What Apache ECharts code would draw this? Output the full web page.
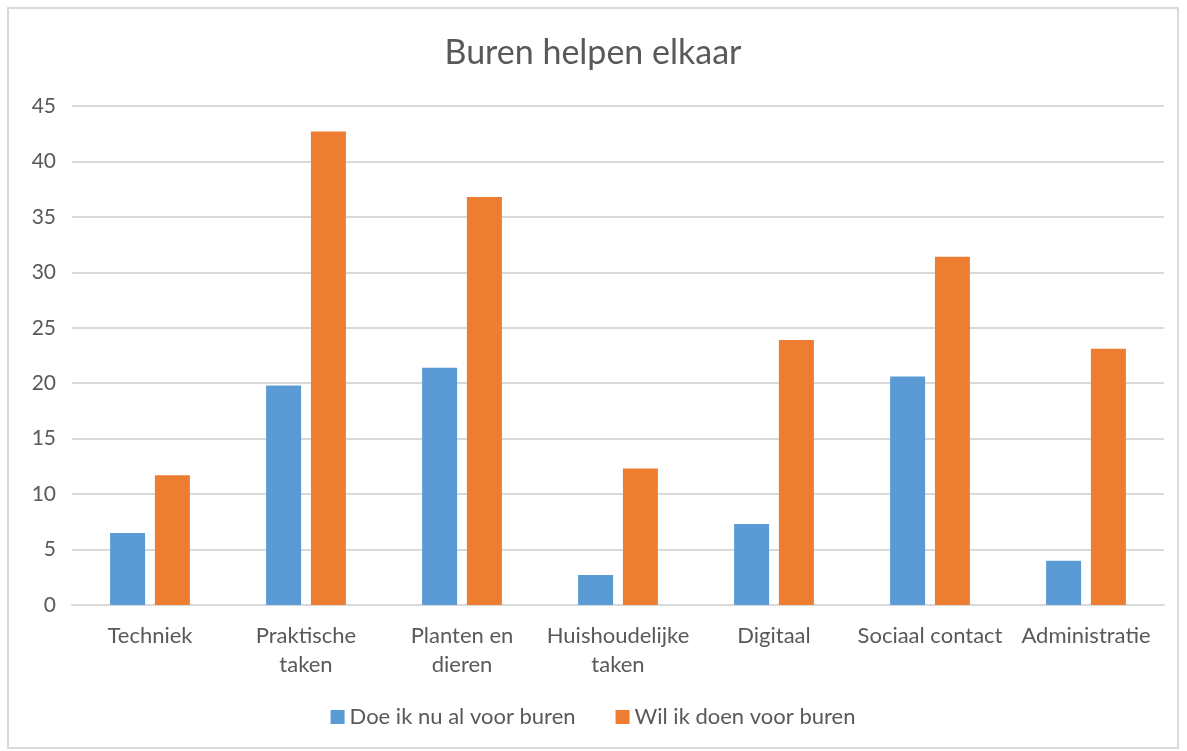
<!DOCTYPE html>
<html>
<head>
<meta charset="utf-8">
<script src="https://cdn.jsdelivr.net/npm/echarts@6/dist/echarts.min.js"></script>
<style>
  html, body { margin: 0; padding: 0; background: #fff; }
  #main {
    position: absolute;
    left: 7px; top: 7px;
    width: 1172px; height: 742px;
    border: 2px solid #d9d9d9;
    box-sizing: border-box;
  }
</style>
</head>
<body>
<div id="main"></div>
<script>
// data
var categories = ["Techniek", "Praktische\ntaken", "Planten en\ndieren", "Huishoudelijke\ntaken", "Digitaal", "Sociaal contact", "Administratie"];
var doeIkNu = [6.5, 19.8, 21.4, 2.7, 7.3, 20.6, 4.0];
var wilIkDoen = [11.7, 42.7, 36.8, 12.3, 23.9, 31.4, 23.1];
var yTicks = [0, 5, 10, 15, 20, 25, 30, 35, 40, 45];

var chart = echarts.init(document.getElementById("main"));
var textFont = "Lato, 'Open Sans', sans-serif";

chart.setOption({
  animation: false,
  title: {
    text: "Buren helpen elkaar",
    left: "center",
    top: 22,
    textStyle: {
      fontFamily: textFont,
      fontSize: 34,
      fontWeight: "normal",
      color: "#595959"
    }
  },
  legend: {
    bottom: 14,
    left: "center",
    itemWidth: 14,
    itemHeight: 14,
    itemGap: 40,
    icon: "rect",
    textStyle: {
      fontFamily: textFont,
      fontSize: 22,
      color: "#595959"
    },
    data: ["Doe ik nu al voor buren", "Wil ik doen voor buren"]
  },
  grid: {
    left: 63,
    right: 13,
    top: 97,
    bottom: 142
  },
  xAxis: {
    type: "category",
    data: categories,
    axisTick: { show: false },
    axisLine: { lineStyle: { color: "#d9d9d9", width: 2 } },
    axisLabel: {
      fontFamily: textFont,
      fontSize: 22,
      color: "#595959",
      margin: 16,
      lineHeight: 29,
      interval: 0
    }
  },
  yAxis: {
    type: "value",
    min: yTicks[0],
    max: yTicks[yTicks.length - 1],
    interval: 5,
    axisLine: { show: false },
    axisTick: { show: false },
    splitLine: { lineStyle: { color: "#d9d9d9", width: 2 } },
    axisLabel: {
      fontFamily: textFont,
      fontSize: 21,
      color: "#595959",
      margin: 16
    }
  },
  series: [
    {
      name: "Doe ik nu al voor buren",
      type: "bar",
      data: doeIkNu,
      barWidth: 35,
      barGap: "28%",
      itemStyle: { color: "#5b9bd5" }
    },
    {
      name: "Wil ik doen voor buren",
      type: "bar",
      data: wilIkDoen,
      barWidth: 35,
      barGap: "28%",
      itemStyle: { color: "#ed7d31" }
    }
  ]
});
</script>
</body>
</html>
